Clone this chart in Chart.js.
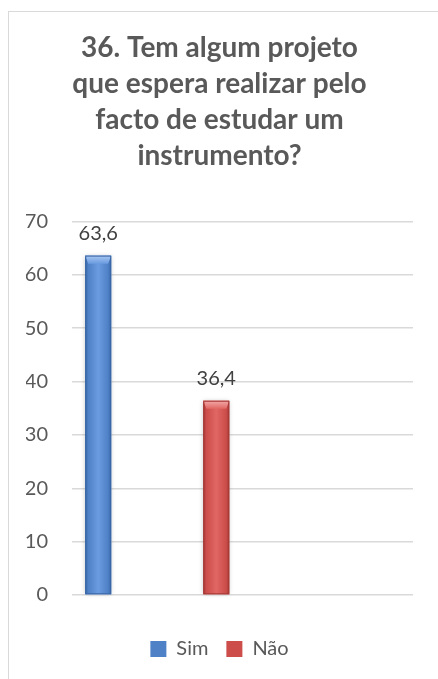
<!DOCTYPE html>
<html>
<head>
<meta charset="utf-8">
<script src="https://cdn.jsdelivr.net/npm/chart.js@4"></script>
<style>
    html, body { margin: 0; padding: 0; background: #ffffff; overflow: hidden; }
    #frame {
        position: absolute; left: 8px; top: 11px;
        width: 440px; height: 700px;
        box-sizing: border-box; border: 1px solid #d9d9d9;
    }
    #chart { display: block; }
</style>
</head>
<body>
<div id="frame"><canvas id="chart" width="438" height="698"></canvas></div>
<script>
// chart values
const titleLines = ["36. Tem algum projeto", "que espera realizar pelo", "facto de estudar um", "instrumento?"];
const categories = ["", "", "", ""];
const simValues = [63.6, null, null, null];
const naoValues = [null, 36.4, null, null];
const seriesNames = ["Sim", "Não"];
const yTicks = [0, 10, 20, 30, 40, 50, 60, 70];

const shades = {
    Sim: { dark: "#3a67a6", mid: "#4f81c7", light: "#6b9be0", cap: "#a9c8f2" },
    "Não": { dark: "#a53a37", mid: "#cc4d4a", light: "#e06764", cap: "#f2aaa8" }
};

const fmt = (v) => v.toFixed(1).replace(".", ",");

// 3D-ish bevel look on top of the plain bars, plus value labels
const bevelBars = {
    id: "bevelBars",
    beforeDatasetsDraw(chart) {
        const ctx = chart.ctx;
        chart.data.datasets.forEach((ds, i) => {
            chart.getDatasetMeta(i).data.forEach((el, j) => {
                if (ds.data[j] == null) return;
                const p = el.getProps(["x", "y", "base", "width"], true);
                ctx.save();
                ctx.shadowColor = "rgba(0,0,0,0.25)";
                ctx.shadowBlur = 5;
                ctx.fillStyle = "#ffffff";
                ctx.fillRect(p.x - p.width / 2, p.y, p.width, p.base - p.y);
                ctx.restore();
            });
        });
    },
    afterDatasetsDraw(chart) {
        const ctx = chart.ctx;
        chart.data.datasets.forEach((ds, i) => {
            const c = shades[ds.label];
            chart.getDatasetMeta(i).data.forEach((el, j) => {
                if (ds.data[j] == null) return;
                const p = el.getProps(["x", "y", "base", "width"], true);
                const left = p.x - p.width / 2;
                const right = p.x + p.width / 2;
                const g = ctx.createLinearGradient(left, 0, right, 0);
                g.addColorStop(0, c.dark);
                g.addColorStop(0.12, c.mid);
                g.addColorStop(0.5, c.light);
                g.addColorStop(0.88, c.mid);
                g.addColorStop(1, c.dark);
                ctx.save();
                ctx.fillStyle = g;
                ctx.fillRect(left, p.y, p.width, p.base - p.y);
                // top bevel
                const b = 8;
                const tg = ctx.createLinearGradient(0, p.y, 0, p.y + b);
                tg.addColorStop(0, c.cap);
                tg.addColorStop(1, c.light);
                ctx.fillStyle = tg;
                ctx.beginPath();
                ctx.moveTo(left, p.y);
                ctx.lineTo(right, p.y);
                ctx.lineTo(right - 3, p.y + b);
                ctx.lineTo(left + 3, p.y + b);
                ctx.closePath();
                ctx.fill();
                ctx.strokeStyle = c.dark;
                ctx.lineWidth = 1;
                ctx.strokeRect(left + 0.5, p.y + 0.5, p.width - 1, p.base - p.y - 1);
                // value label
                ctx.fillStyle = "#404040";
                ctx.font = "20px Lato";
                ctx.textAlign = "center";
                ctx.textBaseline = "alphabetic";
                ctx.fillText(fmt(ds.data[j]), p.x, p.y - 16);
                ctx.restore();
            });
        });
    }
};

const ctx = document.getElementById("chart");
new Chart(ctx, {
    type: "bar",
    data: {
        labels: categories,
        datasets: [
            {
                label: seriesNames[0],
                data: simValues,
                backgroundColor: "#4f81c7",
                borderWidth: 0
            },
            {
                label: seriesNames[1],
                data: naoValues,
                backgroundColor: "#cc4d4a",
                borderWidth: 0
            }
        ]
    },
    options: {
        responsive: false,
        animation: false,
        devicePixelRatio: 1,
        categoryPercentage: 0.77,
        barPercentage: 0.79,
        layout: {
            padding: { left: 17, right: 34, top: 0, bottom: 41 }
        },
        scales: {
            x: {
                grid: { display: false },
                border: { display: false },
                ticks: { display: false },
                afterFit: (scale) => { scale.height = 26; }
            },
            y: {
                min: 0,
                max: 70,
                afterBuildTicks: (scale) => {
                    scale.ticks = yTicks.map((v) => ({ value: v }));
                },
                afterFit: (scale) => { scale.width = 46; },
                grid: { color: "#d9d9d9", lineWidth: 1.5, drawTicks: false },
                border: { display: false },
                ticks: {
                    padding: 24,
                    color: "#595959",
                    font: { family: "Lato", size: 20 }
                }
            }
        },
        plugins: {
            title: {
                display: true,
                text: titleLines,
                color: "#595959",
                font: { family: "Lato", size: 28, weight: "bold", lineHeight: 1.29 },
                padding: { top: 18, bottom: 47 }
            },
            legend: {
                position: "bottom",
                labels: {
                    color: "#595959",
                    font: { family: "Lato", size: 20 },
                    boxWidth: 16,
                    boxHeight: 16,
                    padding: 18
                }
            },
            tooltip: { enabled: false }
        }
    },
    plugins: [bevelBars]
});
</script>
</body>
</html>
